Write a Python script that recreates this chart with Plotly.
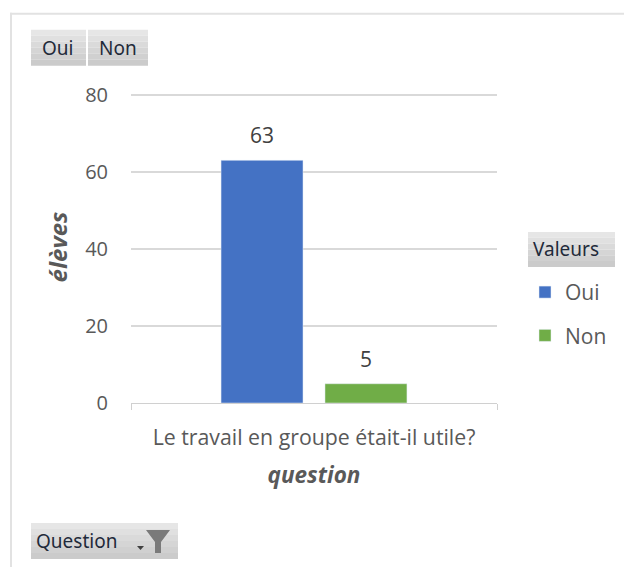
import plotly.graph_objects as go

# Data
categories = ["Le travail en groupe était-il utile?"]
oui_values = [63]
non_values = [5]
y_ticks = [0, 20, 40, 60, 80]

WIDTH, HEIGHT = 624, 567
LEFT, RIGHT, TOP, BOTTOM = 131, 497, 91.15, 403
TEXT_FONT = "Open Sans"
BUTTON_FONT = "Noto Sans"


def fx(px):
    return (px - LEFT) / (RIGHT - LEFT)


def fy(py):
    return (BOTTOM - py) / (BOTTOM - TOP)


def pixel_rect(x0, y0, x1, y1, color):
    return dict(type="rect", xref="paper", yref="paper", layer="below",
                x0=fx(x0), x1=fx(x1), y0=fy(y0), y1=fy(y1),
                fillcolor=color, line_width=0)


def button(x0, y0, x1, y1, label, text_x):
    # pivot field buttons have a light to dark vertical gradient
    bands = ["#e6e6e6", "#e0e0e0", "#dadada", "#d5d5d5", "#d0d0d0", "#cbcbcb"]
    step = (y1 - y0) / len(bands)
    rects = [pixel_rect(x0, y0 + i * step, x1, y0 + (i + 1) * step, c) for i, c in enumerate(bands)]
    note = dict(text=label, xref="paper", yref="paper", x=fx(text_x), y=fy((y0 + y1) / 2),
                xanchor="left", yanchor="middle", showarrow=False, xshift=-3,
                font=dict(family=BUTTON_FONT, size=19, color="#1f2a3a"))
    return rects, note


def bar_label(value, xshift):
    # outside bar text sits too close to the bar, so the labels are annotations
    return dict(text=str(value), x=categories[0], y=value, xref="x", yref="y",
                xshift=xshift, yshift=25, showarrow=False, yanchor="middle",
                font=dict(family=TEXT_FONT, size=21, color="#404040"))


fig = go.Figure()
fig.add_trace(go.Bar(x=categories, y=oui_values, name="Oui", marker_color="#4472c4", legendgroup="oui"))
fig.add_trace(go.Bar(x=categories, y=non_values, name="Non", marker_color="#70ad47", legendgroup="non"))

shapes = [
    pixel_rect(10, 13, WIDTH, 15, "#e2e2e2"),
    pixel_rect(10, 13, 12, HEIGHT, "#e2e2e2"),
]
annotations = [bar_label(oui_values[0], -52), bar_label(non_values[0], 52)]
for box in [(31, 30, 86, 66, "Oui", 43), (88, 30, 148, 66, "Non", 100),
            (31, 523, 178, 559, "Question", 37), (528, 232, 615, 267, "Valeurs", 534)]:
    rects, note = button(*box)
    shapes += rects
    annotations.append(note)

# dropdown arrow and funnel of the filter button
shapes.append(dict(type="path", xref="paper", yref="paper", fillcolor="#404040", line_width=0,
                   path=f"M {fx(137)} {fy(546)} L {fx(144)} {fy(546)} L {fx(140.5)} {fy(550)} Z"))
shapes.append(dict(type="path", xref="paper", yref="paper", fillcolor="#7a7a7a", line_width=0,
                   path=f"M {fx(146)} {fy(530)} L {fx(170)} {fy(530)} L {fx(161)} {fy(542)} "
                        f"L {fx(161)} {fy(553)} L {fx(155)} {fy(553)} L {fx(155)} {fy(542)} Z"))

fig.update_layout(
    width=WIDTH,
    height=HEIGHT,
    margin=dict(l=LEFT, r=WIDTH - RIGHT, t=TOP, b=HEIGHT - BOTTOM, autoexpand=False),
    paper_bgcolor="white",
    plot_bgcolor="white",
    barmode="group",
    bargap=0.432,
    bargroupgap=0.2115,
    font=dict(family=TEXT_FONT, color="#595959"),
    legend=dict(x=fx(525), y=fy(272), xanchor="left", yanchor="top", bgcolor="rgba(0,0,0,0)",
                font=dict(family=TEXT_FONT, size=21, color="#595959"),
                itemwidth=30, tracegroupgap=13, traceorder="grouped"),
    shapes=shapes,
    annotations=annotations,
    xaxis=dict(
        showline=True, linecolor="#d0d0d0", linewidth=1,
        ticks="outside", ticklen=6, tickcolor="#d0d0d0", tickson="boundaries",
        ticklabelstandoff=15,
        tickfont=dict(family=TEXT_FONT, size=21.3, color="#595959"),
        title=dict(text="<b><i>question</i></b>", standoff=17,
                   font=dict(family=TEXT_FONT, size=22.5, color="#595959")),
    ),
    yaxis=dict(
        range=[0, 81], tickvals=y_ticks, showgrid=True, gridcolor="#d9d9d9", gridwidth=2,
        zeroline=False, ticklen=0, ticklabelstandoff=22,
        tickfont=dict(family=TEXT_FONT, size=20, color="#595959"),
        title=dict(text="<b><i>élèves</i></b>", standoff=10,
                   font=dict(family=TEXT_FONT, size=24, color="#595959")),
    ),
)

# the page's default body margin would shift the whole picture
fig.write_html("out.html", config=dict(displayModeBar=False),
               post_script="document.body.style.margin='0';")
